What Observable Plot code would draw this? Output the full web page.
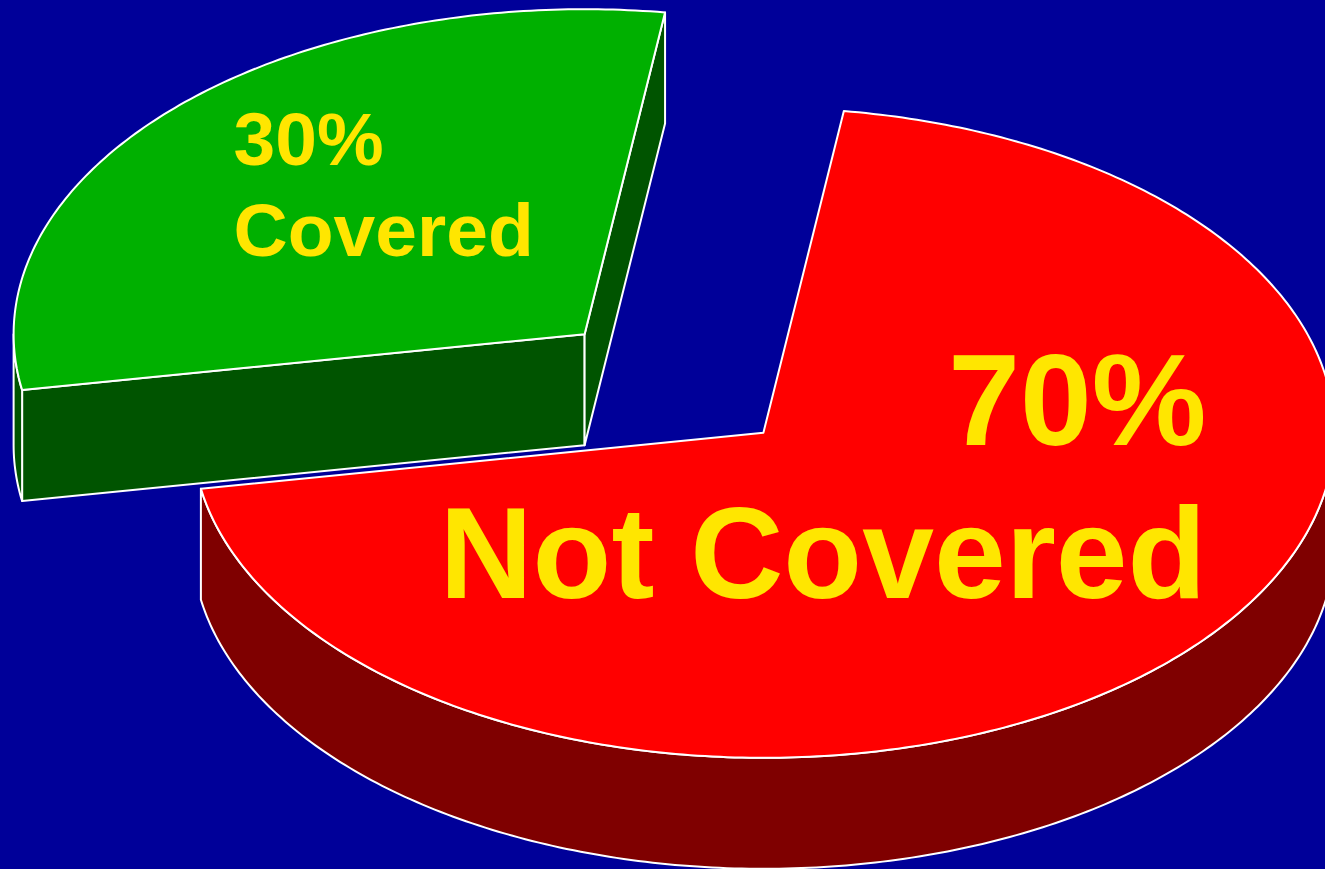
<!DOCTYPE html>
<html>
<head>
<meta charset="utf-8">
<script src="https://cdn.jsdelivr.net/npm/d3@7"></script>
<script src="https://cdn.jsdelivr.net/npm/@observablehq/plot@0.6"></script>
<style>
  html, body { margin: 0; padding: 0; background: #000099; overflow: hidden; }
</style>
</head>
<body>
<div id="chart"></div>
<script>
// ---- data ----
const categories = ["Not Covered", "Covered"];
const values = [70, 30];
const percentLabels = ["70%", "30%"];

// ---- layout / style (not data) ----
const W = 1325, H = 869;
const geom = {cx: 673.5, cy: 383, rx: 571, ry: 325, depth: 111, explode: 0.218, startDeg: -81.9};
const topColors = ["#ff0000", "#00b000"];
const sideColors = ["#7f0000", "#005400"];
const textColor = "#ffe600";
const font = "'Liberation Sans', Arial, Helvetica, sans-serif";

const total = d3.sum(values);
let acc = geom.startDeg * Math.PI / 180;
const slices = categories.map((c, i) => {
  const a0 = acc, a1 = acc + values[i] / total * 2 * Math.PI;
  acc = a1;
  const m = (a0 + a1) / 2;
  return {
    category: c, value: values[i], pct: percentLabels[i], i, a0, a1, m,
    ax: geom.cx + geom.explode * geom.rx * Math.cos(m),
    ay: geom.cy + geom.explode * geom.ry * Math.sin(m)
  };
});

function pt(s, t, dz = 0) {
  return [s.ax + geom.rx * Math.cos(t), s.ay + geom.ry * Math.sin(t) + dz];
}
function arc(s, t0, t1, dz = 0) {
  const n = Math.max(2, Math.ceil(Math.abs(t1 - t0) / (Math.PI / 240)));
  return d3.range(n + 1).map(k => pt(s, t0 + (t1 - t0) * k / n, dz));
}

const polys = [];
const order = slices.slice().sort((a, b) => a.ay - b.ay);
for (const s of order) {
  const d = geom.depth;
  const apex = [s.ax, s.ay], apexB = [s.ax, s.ay + d];
  // cut faces (only those facing the viewer)
  if (Math.cos(s.a0) < 0) {
    const p = pt(s, s.a0), q = pt(s, s.a0, d);
    polys.push({pts: [apex, p, q, apexB], fill: sideColors[s.i]});
  }
  if (Math.cos(s.a1) > 0) {
    const p = pt(s, s.a1), q = pt(s, s.a1, d);
    polys.push({pts: [apex, p, q, apexB], fill: sideColors[s.i]});
  }
  // curved outer side (front half only)
  for (let k = -1; k <= 2; k++) {
    const lo = Math.max(s.a0, 2 * Math.PI * k), hi = Math.min(s.a1, 2 * Math.PI * k + Math.PI);
    if (hi > lo) {
      const top = arc(s, lo, hi), bot = arc(s, lo, hi, d).reverse();
      polys.push({pts: top.concat(bot), fill: sideColors[s.i]});
    }
  }
  // top face
  polys.push({pts: [apex].concat(arc(s, s.a0, s.a1)), fill: topColors[s.i]});
}

const marks = polys.map(p => Plot.line(p.pts, {
  x: d => d[0], y: d => d[1], curve: "linear-closed",
  fill: p.fill, stroke: "white", strokeWidth: 2, strokeLinejoin: "round"
}));

const red = slices[0], green = slices[1];
const txt = (s, field, size, anchor, dx, dy) => Plot.text([s], {
  x: "ax", y: "ay", text: field, dx, dy, textAnchor: anchor, lineAnchor: "bottom",
  fontSize: size, fontWeight: "bold", fontFamily: font, fill: textColor
});
marks.push(
  txt(green, "pct", 75, "start", -351, -169),
  txt(green, "category", 75, "start", -351, -78),
  txt(red, "pct", 129, "end", 443, 12),
  txt(red, "category", 129, "end", 443, 165)
);

const chart = Plot.plot({
  width: W, height: H,
  marginTop: 0, marginRight: 0, marginBottom: 0, marginLeft: 0,
  x: {domain: [0, W], range: [0, W], axis: null},
  y: {domain: [0, H], range: [0, H], axis: null},
  style: {background: "#000099", overflow: "hidden"},
  marks
});
document.getElementById("chart").appendChild(chart);
</script>
</body>
</html>
